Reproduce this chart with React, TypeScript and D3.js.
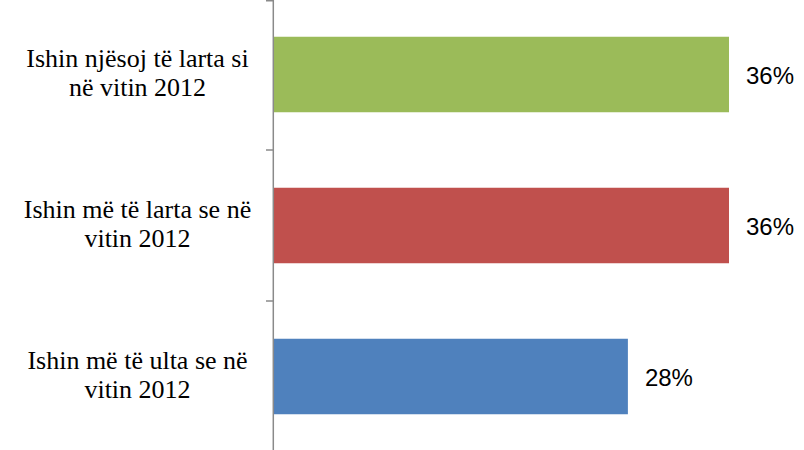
import React from "react";
import * as d3 from "d3";

const categories: string[][] = [
  ["Ishin njësoj të larta si", "në vitin 2012"],
  ["Ishin më të larta se në", "vitin 2012"],
  ["Ishin më të ulta se në", "vitin 2012"],
];
const values: number[] = [36, 36, 28];
const colors: string[] = ["#9BBB59", "#C0504D", "#4F81BD"];
const valueLabels: string[] = ["36%", "36%", "28%"];

const W = 804;
const H = 450;
const axisX = 273.3;
const plotTop = -1;
const plotBottom = 452;

export default function App() {
  const keys = categories.map((c) => c.join(" "));
  const y = d3
    .scaleBand<string>()
    .domain(keys)
    .range([plotTop, plotBottom])
    .paddingInner(0.5)
    .paddingOuter(0.25);
  const x = d3.scaleLinear().domain([0, 36]).range([274, 729]);
  const step = y.step();
  const tickYs = d3.range(keys.length + 1).map((i) => Math.max(0.75, plotTop + i * step));

  return (
    <svg
      width={W}
      height={H}
      style={{ position: "fixed", left: 0, top: 0, background: "#fff" }}
    >
      <rect x={0} y={0} width={W} height={H} fill="#fff" />
      {keys.map((k, i) => {
        const by = y(k)!;
        const bh = y.bandwidth();
        const cy = by + bh / 2;
        return (
          <g key={k}>
            <rect
              x={x(0)}
              y={by}
              width={x(values[i]) - x(0)}
              height={bh}
              fill={colors[i]}
            />
            <text
              x={x(values[i]) + 17}
              y={cy + 9}
              fontFamily="'Liberation Sans', Arial, sans-serif"
              fontSize={24}
              fill="#000"
            >
              {valueLabels[i]}
            </text>
            <text
              x={137.5}
              textAnchor="middle"
              fontFamily="'Liberation Serif', 'Times New Roman', serif"
              fontSize={26}
              fill="#000"
            >
              <tspan x={137.5} y={cy - 7.5}>
                {categories[i][0]}
              </tspan>
              <tspan x={137.5} y={cy + 21.5}>
                {categories[i][1]}
              </tspan>
            </text>
          </g>
        );
      })}
      <line
        x1={axisX}
        x2={axisX}
        y1={0}
        y2={H}
        stroke="#8a8a8a"
        strokeWidth={1.5}
      />
      {tickYs.map((ty, i) => (
        <line
          key={i}
          x1={266}
          x2={axisX}
          y1={ty}
          y2={ty}
          stroke="#8a8a8a"
          strokeWidth={1.5}
        />
      ))}
    </svg>
  );
}
